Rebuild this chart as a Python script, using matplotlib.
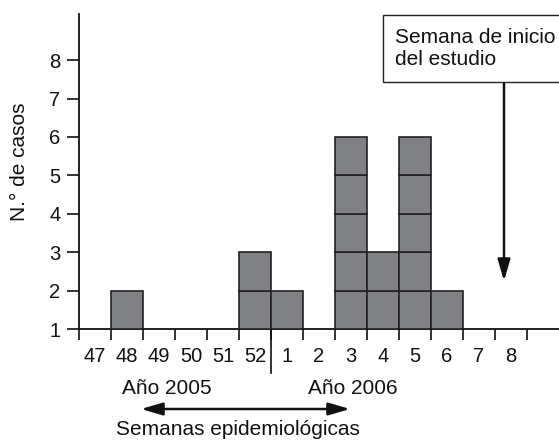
import matplotlib
matplotlib.use("Agg")
import matplotlib.pyplot as plt
from matplotlib.patches import Rectangle, FancyArrowPatch

plt.rcParams['font.family'] = ['Liberation Sans', 'DejaVu Sans']

weeks = ['47', '48', '49', '50', '51', '52', '1', '2', '3', '4', '5', '6', '7', '8']
cases = [0, 1, 0, 0, 0, 2, 1, 0, 5, 2, 5, 1, 0, 0]
y_ticks = [1, 2, 3, 4, 5, 6, 7, 8]

W, H = 559, 440
fig = plt.figure(figsize=(W / 100, H / 100), dpi=100)
ax = fig.add_axes([79 / W, (H - 329) / H, 1 - 79 / W, (329 - 14) / H])

fill = '#808184'
edge = '#222222'
for i, n in enumerate(cases):
    for k in range(n):
        ax.bar(i, 1, bottom=1 + k, width=1, color=fill, edgecolor=edge, linewidth=1.2, zorder=3)

ax.set_xlim(-0.5, 14.5)
ax.set_ylim(1, 1 + (329 - 14) / 38.4)

for s in ['top', 'right']:
    ax.spines[s].set_visible(False)
for s in ['left', 'bottom']:
    ax.spines[s].set_linewidth(1.3)
    ax.spines[s].set_color('#111111')

ax.set_yticks(y_ticks)
ax.tick_params(axis='y', length=8.5, width=1.2, pad=5, labelsize=14.5, colors='#111111')

ax.set_xticks([i - 0.5 for i in range(15)])
ax.set_xticklabels([])
ax.set_xticks(list(range(len(weeks))), minor=True)
ax.set_xticklabels(weeks, minor=True)
ax.tick_params(axis='x', which='major', length=8, width=1.2, colors='#111111')
ax.tick_params(axis='x', which='minor', length=0, pad=13, labelsize=14.5, colors='#111111')

# separator between years
ax.plot([5.5, 5.5], [1, 1 - (373 - 329) / 38.4], color='#111111', lw=1.2, clip_on=False)

def fp(px, py):
    return (px / W, (H - py) / H)

# Study start annotation
fig.add_artist(FancyArrowPatch(fp(504, 83), fp(504, 281), transform=fig.transFigure,
                               arrowstyle='-|>,head_length=1.3,head_width=0.38',
                               mutation_scale=10, color='#111111', lw=1.8, shrinkA=0, shrinkB=0))

fig.patches.append(Rectangle(fp(383, 82), (W - 383 + 5) / W, (82 - 15) / H,
                             transform=fig.transFigure, facecolor='white', edgecolor='#222222',
                             linewidth=1.0, zorder=5))
fig.text(*fp(395, 43), 'Semana de inicio', fontsize=15, va='baseline', ha='left', color='#111111', zorder=6)
fig.text(*fp(395, 65), 'del estudio', fontsize=15, va='baseline', ha='left', color='#111111', zorder=6)

# Y label
fig.text(*fp(20, 162), 'N.° de casos', rotation=90, fontsize=15, va='center', ha='center', color='#111111')

# Year labels
fig.text(*fp(122, 394), 'Año 2005', fontsize=15, va='baseline', ha='left', color='#111111')
fig.text(*fp(308, 394), 'Año 2006', fontsize=15, va='baseline', ha='left', color='#111111')
fig.add_artist(FancyArrowPatch(fp(141, 409), fp(350, 409), transform=fig.transFigure,
                               arrowstyle='<|-|>,head_length=1.3,head_width=0.38',
                               mutation_scale=10, color='#111111', lw=1.8, shrinkA=0, shrinkB=0))
fig.text(*fp(238, 439), 'Semanas epidemiológicas', fontsize=15, va='bottom', ha='center', color='#111111')

fig.savefig('out.png', dpi=100)
